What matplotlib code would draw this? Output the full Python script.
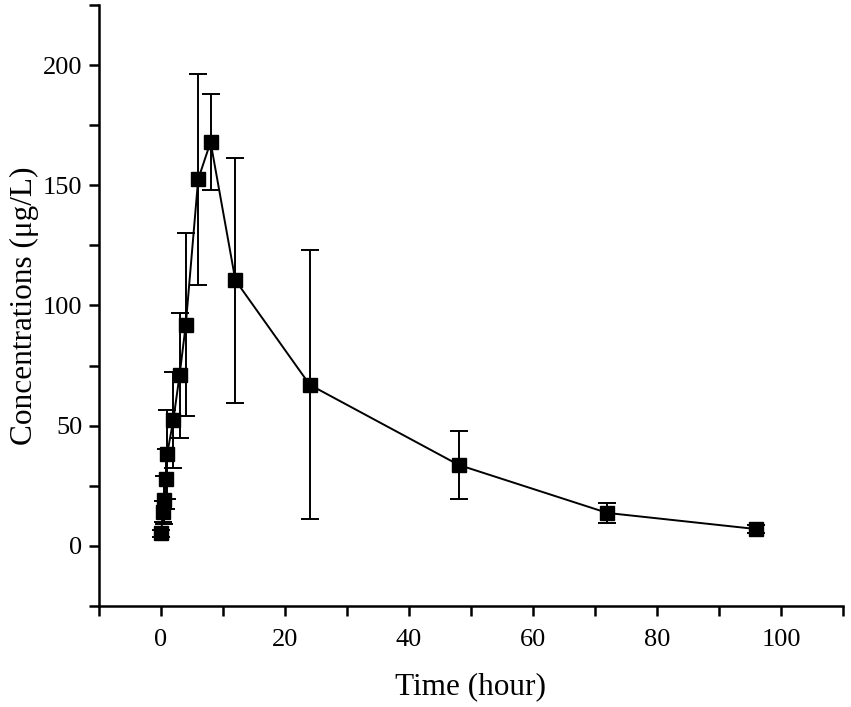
import matplotlib
matplotlib.use("Agg")
import matplotlib.pyplot as plt
from matplotlib.ticker import MultipleLocator

plt.rcParams['font.family'] = ['Liberation Serif', 'DejaVu Serif']

time_h = [0.083, 0.25, 0.5, 0.75, 1, 2, 3, 4, 6, 8, 12, 24, 48, 72, 96]
conc = [5.3, 14.3, 19.0, 28.0, 38.2, 52.5, 71.0, 92.0, 152.5, 168.0, 110.5, 67.0, 33.7, 13.7, 7.0]
sd = [1.5, 4.3, 10.0, 12.5, 18.5, 20.0, 26.0, 38.0, 44.0, 20.0, 51.0, 56.0, 14.0, 4.0, 1.5]

fig = plt.figure(figsize=(8.51, 7.07), dpi=100)
ax = fig.add_axes([0.1163, 0.1429, 0.8743, 0.85])

ax.errorbar(time_h, conc, yerr=sd, color='black', lw=1.4, elinewidth=1.4,
            capsize=6.5, capthick=1.4, marker='s', ms=9.4, mfc='black', mec='black')

ax.set_xlim(-10, 110)
ax.set_ylim(-25, 225)
ax.xaxis.set_major_locator(MultipleLocator(20))
ax.xaxis.set_minor_locator(MultipleLocator(10))
ax.yaxis.set_major_locator(MultipleLocator(50))
ax.yaxis.set_minor_locator(MultipleLocator(25))

for s in ['top', 'right']:
    ax.spines[s].set_visible(False)
for s in ['left', 'bottom']:
    ax.spines[s].set_linewidth(1.8)

ax.tick_params(which='both', direction='out', width=1.8, length=7)
ax.tick_params(axis='y', which='major', labelsize=19, pad=5)
ax.tick_params(axis='x', which='major', labelsize=19, pad=9.5)

ax.set_xlabel('Time (hour)', fontsize=22.5, labelpad=15)
ax.set_ylabel('Concentrations (μg/L)', fontsize=22.5, labelpad=3)

fig.savefig('out.png', dpi=100)
